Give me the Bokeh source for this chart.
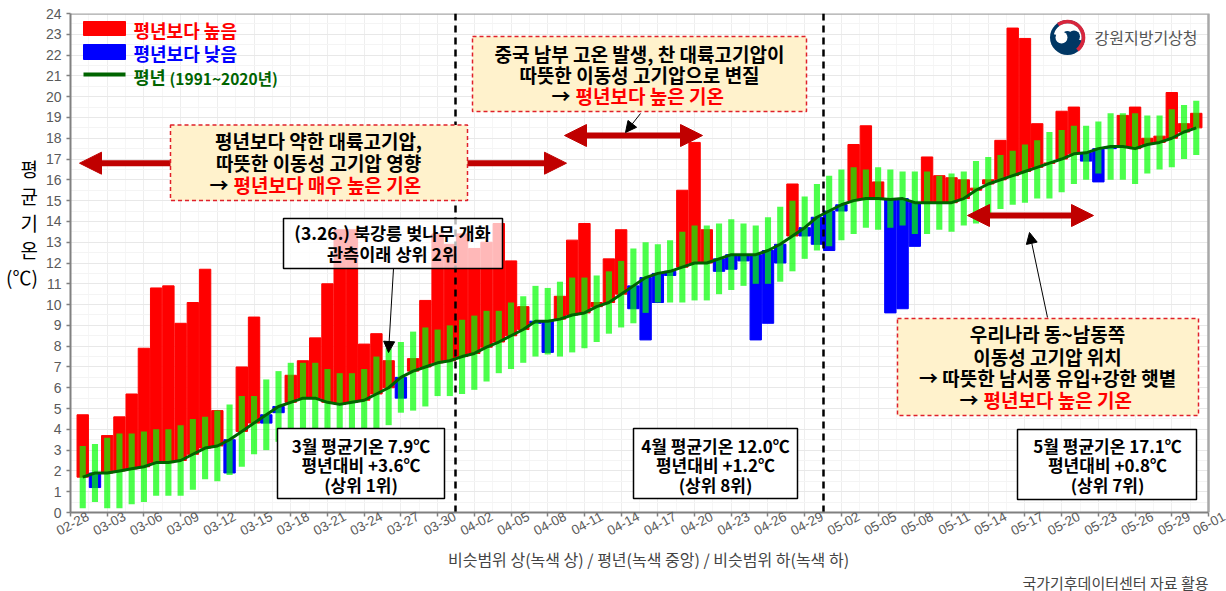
from bokeh.plotting import figure
from bokeh.models import ColumnDataSource, Label, Arrow, NormalHead, FixedTicker, Span, BoxAnnotation, LinearAxis, Range1d, Title
from bokeh.embed import file_html
from bokeh.resources import INLINE
import numpy as np

tick_labels = ["02-28","03-03","03-06","03-09","03-12","03-15","03-18","03-21","03-24","03-27","03-30",
               "04-02","04-05","04-08","04-11","04-14","04-17","04-20","04-23","04-26","04-29",
               "05-02","05-05","05-08","05-11","05-14","05-17","05-20","05-23","05-26","05-29","06-01"]

temp = [4.7,1.2,3.7,4.6,5.7,7.9,10.8,10.9,9.1,10.1,11.7,4.9,1.9,7.0,9.4,4.3,4.8,6.6,7.3,8.4,11.0,13.6,13.6,8.1,8.6,7.3,5.5,7.4,10.2,13.4,12.9,
        13.4,12.7,13.0,13.9,12.1,9.9,9.1,7.7,10.4,13.1,13.9,10.1,12.2,13.6,9.8,8.3,10.1,11.4,15.5,17.8,13.6,11.6,11.7,12.1,8.3,9.1,12.0,15.8,13.3,12.9,
        12.6,14.5,17.7,18.6,15.9,9.6,9.8,12.8,17.1,16.2,16.1,16.0,15.6,16.0,17.9,23.3,22.8,18.7,16.8,19.3,19.5,16.9,15.9,17.5,19.1,19.5,18.0,18.1,20.2,18.7,19.2]
normal = [1.7,1.9,1.9,2.0,2.1,2.2,2.4,2.4,2.5,2.8,3.1,3.2,3.5,3.9,4.3,4.7,5.1,5.3,5.5,5.5,5.3,5.2,5.3,5.4,5.7,6.0,6.5,6.8,7.0,7.2,7.3,
          7.5,7.65,7.95,8.2,8.5,8.8,9.2,9.2,9.3,9.5,9.6,9.9,10.1,10.5,10.9,11.3,11.5,11.6,11.8,12.0,12.0,12.2,12.4,12.4,12.4,12.6,12.9,13.3,13.7,14.2,
          14.5,14.8,15.0,15.1,15.1,15.05,15.1,14.9,14.9,14.9,14.9,15.1,15.5,15.8,16.0,16.2,16.4,16.6,16.8,17.0,17.25,17.3,17.5,17.6,17.6,17.5,17.7,17.8,18.0,18.3,18.5]
range_low = [0.2,0.5,0.2,0.2,0.4,0.5,0.8,0.8,0.8,1.1,1.6,1.5,1.8,2.2,2.8,3.0,3.4,3.4,3.8,3.8,3.8,3.8,3.9,3.9,3.9,4.2,4.8,4.9,5.1,5.6,5.6,
             5.7,5.9,6.3,6.7,6.9,7.2,7.5,7.6,7.5,7.7,7.9,8.2,8.6,8.9,9.1,9.6,10.1,10.1,10.1,10.2,10.2,10.5,10.7,10.9,11.0,11.0,11.1,11.6,12.2,12.6,
             12.8,13.1,13.4,13.7,13.6,13.7,13.8,13.4,13.4,13.6,13.5,13.8,13.9,14.4,14.6,14.8,14.9,15.1,15.1,15.4,15.8,16.0,16.3,16.0,16.0,15.8,16.3,16.5,16.6,17.0,17.2]
range_high = [3.2,3.3,3.6,3.8,3.8,3.9,4.0,4.0,4.2,4.5,4.6,4.9,5.2,5.6,5.6,6.4,6.8,7.2,7.2,7.2,6.9,6.7,6.7,6.9,7.5,7.9,8.2,8.7,8.9,8.8,9.0,
              9.27,9.47,9.7,9.7,10.1,10.4,10.9,10.8,11.1,11.3,11.3,11.4,11.6,12.1,12.7,13.0,12.9,13.1,13.5,13.8,13.8,13.9,14.1,13.9,13.8,14.2,14.7,15.0,15.2,15.8,
              16.2,16.5,16.6,16.5,16.6,16.5,16.4,16.4,16.4,16.2,16.3,16.4,16.9,17.1,17.2,17.4,17.7,17.9,18.3,18.4,18.6,18.6,18.8,19.2,19.2,19.2,19.1,19.1,19.4,19.6,19.8]

FONT = "Noto Sans CJK KR"
LEFT, RIGHT, TOP, BOTTOM = 70.0, 1208.0, 13.0, 512.0
W, H = 1226, 591
XS = (RIGHT - LEFT) / 93.0
YS = (BOTTOM - TOP) / 24.0
XMAX = (W - LEFT) / XS   # frame runs to the window edge so the last rotated label still has room
LABEL_SHIFT = 1.43       # rotated labels sit centred on their ticks, not right-aligned
def X(px): return (px - LEFT) / XS
def Y(py): return (BOTTOM - py) / YS

days = np.arange(1, len(temp) + 1)
src = ColumnDataSource(dict(x=days, t=temp, n=normal, lo=range_low, hi=range_high,
    c=["#ff0000" if t >= n else "#0000ff" for t, n in zip(temp, normal)]))

p = figure(width=W, height=H, x_range=(0, XMAX), y_range=(0, 24), output_backend="svg",
           toolbar_location=None, background_fill_color="white", border_fill_color="white",
           min_border_left=int(LEFT), min_border_right=0, min_border_top=int(TOP), min_border_bottom=int(H - BOTTOM))
p.extra_x_ranges["lab"] = Range1d(start=-LABEL_SHIFT, end=XMAX - LABEL_SHIFT)

tx = list(range(0, 94, 3))
p.xaxis.ticker = FixedTicker(ticks=tx)
p.xaxis.major_label_overrides = {t: "" for t in tx}
p.xaxis.bounds = (0, 93)
p.xaxis.major_label_text_font_size = "0px"
p.xaxis.major_label_standoff = 0
p.yaxis.ticker = FixedTicker(ticks=list(range(0, 25)))
for ax in (p.xaxis[0], p.yaxis[0]):
    ax.axis_line_color = "#808080"
    ax.axis_line_width = 2
    ax.major_tick_line_color = "#808080"
    ax.major_tick_line_width = 1.5
    ax.major_tick_out = 4
    ax.major_tick_in = 0
    ax.minor_tick_line_color = None
p.yaxis.major_label_text_font = "Liberation Sans"
p.yaxis.major_label_text_font_size = "14px"
p.yaxis.major_label_text_color = "#5a5a5a"
p.yaxis.axis_label = "평\n균\n기\n온\n(℃)\n \n \n"
p.yaxis.axis_label_orientation = "horizontal"
p.yaxis.axis_label_text_font = FONT
p.yaxis.axis_label_text_font_style = "normal"
p.yaxis.axis_label_text_font_size = "19px"
p.yaxis.axis_label_text_color = "black"
p.yaxis.axis_label_text_line_height = 1.0
p.yaxis.axis_label_standoff = 5

lab = LinearAxis(x_range_name="lab", ticker=FixedTicker(ticks=tx),
                 major_label_overrides={t: l for t, l in zip(tx, tick_labels)},
                 major_label_orientation=float(np.deg2rad(28)),
                 major_label_text_font="Liberation Sans", major_label_text_font_size="13.5px",
                 major_label_text_color="#5a5a5a", major_label_standoff=-1,
                 axis_line_color=None, major_tick_line_color=None, minor_tick_line_color=None,
                 major_tick_out=0, major_tick_in=0,
                 axis_label="비슷범위 상(녹색 상) / 평년(녹색 중앙) / 비슷범위 하(녹색 하)",
                 axis_label_text_font=FONT, axis_label_text_font_style="normal",
                 axis_label_text_font_size="16px", axis_label_text_color="#444444", axis_label_standoff=4)
p.add_layout(lab, "below")
p.add_layout(Title(text="국가기후데이터센터 자료 활용", align="right", offset=18, standoff=-8,
                   text_font=FONT, text_font_style="normal", text_font_size="15px", text_color="#444444"), "below")

p.outline_line_color = None
p.xgrid.grid_line_color = "#eeeeee"
p.ygrid.grid_line_color = "#e8e8e8"
p.xgrid.ticker = FixedTicker(ticks=tx, minor_ticks=[t + 1.5 for t in tx[:-1]])
p.ygrid.ticker = FixedTicker(ticks=list(range(0, 25)), minor_ticks=[i + 0.5 for i in range(24)])
p.xgrid.minor_grid_line_color = "#f6f6f6"
p.ygrid.minor_grid_line_color = "#f4f4f4"
p.ygrid.bounds = (0, 24)

p.vbar(x="x", bottom="n", top="t", width=0.93, color="c", source=src)
p.vbar(x="x", bottom="lo", top="hi", width=0.5, fill_color="#00ff00", fill_alpha=0.7, line_color=None, source=src)
p.line(x="x", y="n", line_color="#006400", line_width=3, line_join="round", source=src)

# white mask right of the plot area, then the frame's top and right edges
p.quad(left=[93], right=[XMAX], top=[24], bottom=[0], fill_color="white", line_color=None)
p.line(x=[0, 93, 93], y=[24, 24, 0], line_color="#a8a8a8", line_width=2.5)

for px in (455.0, 823.0):
    p.add_layout(Span(location=X(px), dimension="height", line_color="black", line_width=2.5,
                      line_dash="7 5", level="glyph"))

def arrow(x0, y0, x1, y1, both=True, color="#c00000", w=6, size=22):
    p.add_layout(Arrow(x_start=X(x0), y_start=Y(y0), x_end=X(x1), y_end=Y(y1), line_color=color, line_width=w,
                       end=NormalHead(size=size, fill_color=color, line_color=color),
                       start=NormalHead(size=size, fill_color=color, line_color=color) if both else None,
                       level="glyph"))

arrow(79, 162.7, 566, 162.7)
arrow(564, 135, 702, 135)
arrow(967, 215, 1093, 215)
arrow(640, 113, 625, 132, both=False, color="black", w=1, size=11)
arrow(393, 268, 388, 352, both=False, color="black", w=1, size=11)
arrow(1047, 317, 1029, 232, both=False, color="black", w=1, size=11)

def box(x0, y0, x1, y1, fill, alpha=1.0, line="black", lw=1.5, dash="solid"):
    p.add_layout(BoxAnnotation(left=X(x0), right=X(x1), top=Y(y0), bottom=Y(y1), fill_color=fill, fill_alpha=alpha,
                               line_color=line, line_alpha=1.0, line_width=lw, line_dash=dash, level="glyph"))

YELLOW = "#fff2cc"; DASHRED = "#e0202a"
box(170, 124.5, 467, 200, YELLOW, line=DASHRED, dash="4 3")
box(472, 36, 806, 111, YELLOW, line=DASHRED, dash="4 3")
box(897, 318, 1198, 415, YELLOW, line=DASHRED, dash="4 3")
box(283, 218, 502, 268, "white", alpha=0.72)
box(277, 428, 444, 498, "white")
box(633, 428, 797, 498, "white")
box(1017, 429, 1196, 499, "white")

# legend swatches
p.quad(left=[X(83)], right=[X(125)], top=[Y(21)], bottom=[Y(35)], color="#ff0000")
p.quad(left=[X(83)], right=[X(125)], top=[Y(44)], bottom=[Y(59)], color="#0000ff")
p.line(x=[X(83), X(125)], y=[Y(74), Y(74)], line_color="#006400", line_width=4)

# logo
cx, cy = X(1067), Y(37)
p.scatter(x=[cx], y=[cy], size=35, fill_color="#003764", line_color=None)
p.annular_wedge(x=[cx], y=[cy], inner_radius=14, outer_radius=17.8, inner_radius_units="screen",
                outer_radius_units="screen", start_angle=-0.9, end_angle=2.2,
                fill_color="#d7263d", line_color=None)
p.annular_wedge(x=[cx], y=[cy], inner_radius=6.5, outer_radius=14, inner_radius_units="screen",
                outer_radius_units="screen", start_angle=-0.2, end_angle=2.9,
                fill_color="white", line_color=None)
p.scatter(x=[X(1073.5)], y=[Y(36)], size=12, fill_color="#003764", line_color=None)
p.scatter(x=[X(1061)], y=[Y(37)], size=12, fill_color="white", line_color=None)

def T(s, px, py, size=15, color="black", bold=True, align="center", font=FONT):
    p.add_layout(Label(x=X(px), y=Y(py), text=s, text_font=font, text_font_size=f"{size}px", text_color=color,
                       text_font_style="bold" if bold else "normal", text_align=align, text_baseline="middle"))

# legend text
T("평년보다 높음", 133, 29, 18, "#ff0000", align="left")
T("평년보다 낮음", 133, 52, 18, "#0000ff", align="left")
T("평년", 133, 76, 17.5, "#006400", align="left")
T("(1991~2020년)", 169, 77, 15.5, "#006400", align="left")

# yellow boxes
S = 19
T("평년보다 약한 대륙고기압,", 318, 140, S)
T("따뜻한 이동성 고기압 영향", 318, 162, S)
T("→", 228, 184, S, align="right")
T("평년보다 매우 높은 기온", 233, 184, S, "#ff0000", align="left")

T("중국 남부 고온 발생, 찬 대륙고기압이", 639, 53, S)
T("따뜻한 이동성 고기압으로 변질", 639, 74, S)
T("→", 570, 95, S, align="right")
T("평년보다 높은 기온", 575, 95, S, "#ff0000", align="left")

T("우리나라 동~남동쪽", 1047, 333, S)
T("이동성 고기압 위치", 1047, 356, S)
T("→ 따뜻한 남서풍 유입+강한 햇볕", 1047, 377, S)
T("→", 978, 399, S, align="right")
T("평년보다 높은 기온", 983, 399, S, "#ff0000", align="left")

# callout
T("(3.26.) 북강릉 벚나무 개화", 392, 232, 17.5, bold=True)
T("관측이래 상위 2위", 392, 253, 17.5, bold=True)

# month boxes
for cxp, lines in [(360.5, ["3월 평균기온 7.9℃", "평년대비 +3.6℃", "(상위 1위)"]),
                   (715, ["4월 평균기온 12.0℃", "평년대비 +1.2℃", "(상위 8위)"]),
                   (1107, ["5월 평균기온 17.1℃", "평년대비 +0.8℃", "(상위 7위)"])]:
    for s, py in zip(lines, (445, 464, 484)):
        T(s, cxp, py, 17, bold=True)

T("강원지방기상청", 1094, 36, 16, "#555555", bold=False, align="left")

open("out.html", "w").write(file_html(p, INLINE))
